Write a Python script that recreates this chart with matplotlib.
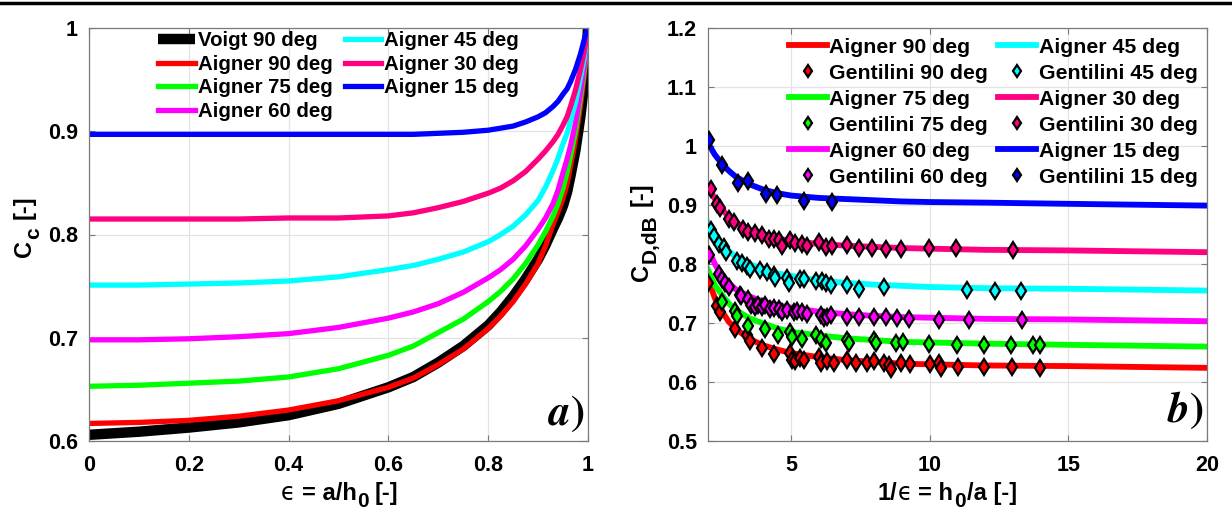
import matplotlib
matplotlib.use('Agg')
import matplotlib.pyplot as plt
from matplotlib.lines import Line2D
from matplotlib.ticker import FuncFormatter
from matplotlib.transforms import IdentityTransform

plt.rcParams['font.family'] = ['Liberation Sans', 'DejaVu Sans']
plt.rcParams['font.weight'] = 'bold'

# ---- panel a: contraction coefficient vs epsilon ----
eps = [0, 0.1, 0.2, 0.3, 0.4, 0.5, 0.6, 0.65, 0.7, 0.75, 0.8, 0.825, 0.85, 0.875, 0.9, 0.915, 0.93, 0.94,
       0.95, 0.958, 0.965, 0.975, 0.985, 0.992, 0.997, 1.0]
cc_voigt90 = [0.606, 0.609, 0.613, 0.618, 0.625, 0.636, 0.652, 0.662, 0.676, 0.692, 0.712, 0.725, 0.740, 0.757, 0.776, 0.790,
              0.806, 0.816, 0.828, 0.841, 0.857, 0.882, 0.915, 0.945, 0.973, 1.0]
cc_aig90 = [0.617, 0.618, 0.620, 0.624, 0.630, 0.639, 0.652, 0.661, 0.674, 0.689, 0.709, 0.721, 0.735, 0.752, 0.772, 0.789,
            0.810, 0.822, 0.835, 0.849, 0.866, 0.892, 0.925, 0.952, 0.978, 1.0]
cc_aig75 = [0.653, 0.654, 0.656, 0.658, 0.662, 0.670, 0.683, 0.692, 0.705, 0.718, 0.735, 0.745, 0.757, 0.772, 0.790, 0.803,
            0.818, 0.830, 0.845, 0.860, 0.876, 0.900, 0.932, 0.957, 0.980, 1.0]
cc_aig60 = [0.698, 0.698, 0.699, 0.701, 0.704, 0.710, 0.719, 0.725, 0.733, 0.744, 0.758, 0.766, 0.776, 0.789, 0.805, 0.816,
            0.830, 0.843, 0.860, 0.873, 0.886, 0.908, 0.938, 0.962, 0.983, 1.0]
cc_aig45 = [0.751, 0.751, 0.752, 0.753, 0.755, 0.759, 0.766, 0.770, 0.776, 0.783, 0.793, 0.800, 0.808, 0.819, 0.833, 0.846,
            0.862, 0.874, 0.888, 0.898, 0.910, 0.928, 0.952, 0.970, 0.987, 1.0]
cc_aig30 = [0.815, 0.815, 0.815, 0.815, 0.816, 0.816, 0.818, 0.821, 0.826, 0.832, 0.840, 0.845, 0.852, 0.861, 0.873, 0.881,
            0.890, 0.897, 0.906, 0.914, 0.924, 0.940, 0.960, 0.976, 0.990, 1.0]
cc_aig15 = [0.897, 0.897, 0.897, 0.897, 0.897, 0.897, 0.897, 0.897, 0.898, 0.899, 0.901, 0.903, 0.905, 0.909, 0.914, 0.918,
            0.924, 0.929, 0.936, 0.941, 0.948, 0.960, 0.975, 0.988, 0.996, 1.0]

# ---- panel b: discharge coefficient vs 1/epsilon ----
inv_eps = [2, 2.25, 2.5, 2.75, 3, 3.5, 4, 4.5, 5, 6, 7, 8, 9, 10, 12, 15, 20]
cd_aig90 = [0.774, 0.742, 0.720, 0.702, 0.690, 0.673, 0.662, 0.655, 0.649, 0.642, 0.637, 0.634, 0.631, 0.630, 0.628, 0.627, 0.624]
cd_aig75 = [0.790, 0.764, 0.748, 0.733, 0.722, 0.708, 0.699, 0.691, 0.685, 0.679, 0.674, 0.671, 0.668, 0.667, 0.665, 0.663, 0.660]
cd_aig60 = [0.825, 0.800, 0.780, 0.768, 0.757, 0.745, 0.736, 0.730, 0.726, 0.719, 0.715, 0.712, 0.710, 0.709, 0.707, 0.706, 0.703]
cd_aig45 = [0.870, 0.850, 0.835, 0.822, 0.812, 0.800, 0.791, 0.784, 0.780, 0.772, 0.768, 0.765, 0.763, 0.761, 0.759, 0.758, 0.755]
cd_aig30 = [0.932, 0.910, 0.893, 0.880, 0.870, 0.858, 0.850, 0.843, 0.839, 0.834, 0.831, 0.829, 0.827, 0.826, 0.824, 0.823, 0.820]
cd_aig15 = [1.005, 0.985, 0.970, 0.958, 0.948, 0.935, 0.926, 0.920, 0.916, 0.912, 0.910, 0.908, 0.906, 0.905, 0.904, 0.902, 0.899]

# Gentilini measurements
g90_x = [2.0, 2.32, 2.45, 2.98, 3.40, 3.52, 3.94, 4.37, 4.97, 5.03, 5.15, 5.33, 5.45, 5.99, 6.06, 6.30, 6.54,
         7.02, 7.33, 7.75, 7.99, 8.35, 8.53, 8.59, 8.96, 9.29, 10.02, 10.35, 10.41, 11.01, 11.97, 12.97, 13.97]
g90_y = [0.768, 0.729, 0.718, 0.689, 0.679, 0.669, 0.658, 0.648, 0.649, 0.638, 0.635, 0.641, 0.638, 0.643, 0.632, 0.635, 0.632,
         0.638, 0.633, 0.632, 0.635, 0.632, 0.629, 0.622, 0.633, 0.631, 0.630, 0.632, 0.624, 0.626, 0.626, 0.626, 0.624]
g75_x = [2.50, 2.98, 3.04, 3.46, 4.07, 4.51, 4.97, 5.03, 5.39, 5.91, 6.06, 6.24, 7.03, 7.09, 7.99, 8.05, 8.78,
         9.02, 9.98, 10.99, 11.97, 12.94, 13.72, 13.96]
g75_y = [0.736, 0.720, 0.712, 0.695, 0.689, 0.680, 0.684, 0.677, 0.673, 0.679, 0.673, 0.666, 0.672, 0.666, 0.672, 0.666, 0.666,
         0.667, 0.665, 0.663, 0.662, 0.662, 0.662, 0.662]
g60_x = [2.05, 2.38, 2.50, 2.62, 2.77, 3.14, 3.18, 3.46, 3.55, 3.70, 3.82, 3.94, 4.07, 4.25, 4.37, 4.55, 4.67, 4.85,
         5.09, 5.21, 5.39, 5.57, 6.06, 6.18, 6.30, 6.42, 7.02, 7.45, 7.99, 8.41, 8.83, 9.26, 10.32, 11.41, 13.33]
g60_y = [0.815, 0.783, 0.775, 0.767, 0.761, 0.748, 0.746, 0.741, 0.730, 0.727, 0.731, 0.727, 0.730, 0.723, 0.726, 0.723, 0.718, 0.722,
         0.718, 0.720, 0.718, 0.716, 0.714, 0.709, 0.710, 0.713, 0.711, 0.711, 0.710, 0.710, 0.709, 0.707, 0.705, 0.705, 0.705]
g45_x = [2.10, 2.22, 2.41, 2.56, 2.65, 3.04, 3.22, 3.40, 3.50, 3.88, 4.13, 4.37, 4.43, 4.85, 4.91, 5.33, 5.45, 5.88,
         6.12, 6.24, 6.42, 7.02, 7.45, 8.35, 11.35, 12.34, 13.28]
g45_y = [0.858, 0.848, 0.834, 0.828, 0.821, 0.805, 0.802, 0.796, 0.791, 0.790, 0.787, 0.781, 0.777, 0.777, 0.768, 0.774, 0.775, 0.771,
         0.771, 0.768, 0.764, 0.764, 0.758, 0.761, 0.756, 0.754, 0.755]
g30_x = [2.10, 2.34, 2.45, 2.77, 2.95, 3.28, 3.46, 3.70, 3.94, 4.19, 4.37, 4.55, 4.67, 4.97, 5.15, 5.39, 5.57, 5.99,
         6.24, 6.48, 7.02, 7.45, 7.93, 8.41, 8.96, 9.96, 10.95, 13.0]
g30_y = [0.927, 0.902, 0.895, 0.876, 0.872, 0.860, 0.855, 0.852, 0.849, 0.843, 0.842, 0.840, 0.831, 0.841, 0.835, 0.834, 0.831, 0.837,
         0.828, 0.831, 0.832, 0.827, 0.827, 0.825, 0.826, 0.827, 0.827, 0.824]
g15_x = [2.03, 2.5, 3.10, 3.46, 4.10, 4.49, 5.48, 6.48]
g15_y = [1.010, 0.968, 0.938, 0.940, 0.919, 0.917, 0.906, 0.905]

col = {90: '#ff0000', 75: '#00ff00', 60: '#ff00ff', 45: '#00ffff', 30: '#ff0080', 15: '#0000ff'}

W, H = 1232, 520
fig = plt.figure(figsize=(W / 100, H / 100), dpi=100)
ax1 = fig.add_axes([89 / W, 1 - 441 / H, 499 / W, 413 / H])
ax2 = fig.add_axes([708 / W, 1 - 441 / H, 499 / W, 413 / H])

# top rule of the page
fig.add_artist(Line2D([0, 1], [1 - 2.5 / H, 1 - 2.5 / H], color='black', lw=2.5, transform=fig.transFigure))

fmt = FuncFormatter(lambda v, p: '%g' % round(v, 3))


def style(ax):
    ax.grid(True, color='#e3e3e3', lw=0.9)
    ax.set_axisbelow(True)
    for s in ax.spines.values():
        s.set_color('#7a7a7a')
        s.set_linewidth(0.9)
    ax.tick_params(direction='in', length=4, color='#7a7a7a', labelsize=15.5, top=True, right=True,
                   labelcolor='black')
    ax.tick_params(axis='x', pad=10)
    ax.tick_params(axis='y', pad=8)
    ax.xaxis.set_major_formatter(fmt)
    ax.yaxis.set_major_formatter(fmt)


# labels built from pieces so that subscripts keep MATLAB-like size
PX = IdentityTransform()
REG = dict(fontsize=17, fontweight='bold')
SUB = dict(fontsize=15, fontweight='bold')
EPS = dict(fontsize=17, fontweight='normal', family=['DejaVu Sans'])


def piece_label(anchor, pieces, vertical=False):
    r = fig.canvas.get_renderer()
    items = []
    for s, gap, shift, kw in pieces:
        t = fig.text(0, 0, s, transform=PX, ha='left', va='baseline', rotation=90 if vertical else 0,
                     rotation_mode='anchor', **kw)
        bb = t.get_window_extent(r)
        items.append((t, gap, shift, bb.height if vertical else bb.width))
    total = sum(g + l for _, g, _, l in items)
    ax_, ay_ = anchor
    pos = (ay_ if vertical else ax_) - total / 2
    for t, gap, shift, length in items:
        pos += gap
        if vertical:
            t.set_position((ax_ + shift, pos))
        else:
            t.set_position((pos, ay_ - shift))
        pos += length


# panel a
ax1.plot(eps, cc_voigt90, color='black', lw=7.5, label='Voigt 90 deg', solid_capstyle='butt')
ax1.plot(eps, cc_aig90, color=col[90], lw=3.8, label='Aigner 90 deg')
ax1.plot(eps, cc_aig75, color=col[75], lw=3.8, label='Aigner 75 deg')
ax1.plot(eps, cc_aig60, color=col[60], lw=3.8, label='Aigner 60 deg')
ax1.plot(eps, cc_aig45, color=col[45], lw=3.8, label='Aigner 45 deg')
ax1.plot(eps, cc_aig30, color=col[30], lw=3.8, label='Aigner 30 deg')
ax1.plot(eps, cc_aig15, color=col[15], lw=3.8, label='Aigner 15 deg')
ax1.set_xlim(0, 1)
ax1.set_ylim(0.6, 1)
ax1.set_xticks([0, 0.2, 0.4, 0.6, 0.8, 1])
ax1.set_yticks([0.6, 0.7, 0.8, 0.9, 1])
style(ax1)
ax1.legend(loc='upper center', ncol=2, frameon=False, fontsize=14.7, handlelength=1.8,
           handletextpad=0.12, columnspacing=0.6, labelspacing=0.22, borderaxespad=0.0,
           bbox_to_anchor=(0.5, 1.012))
ax1.text(0.993, 0.065, r'$\mathbfit{a}\mathrm{)}$', transform=ax1.transAxes, ha='right', va='center',
         fontsize=31, math_fontfamily='stix')

# panel b
series = [(90, cd_aig90, g90_x, g90_y), (75, cd_aig75, g75_x, g75_y), (60, cd_aig60, g60_x, g60_y),
          (45, cd_aig45, g45_x, g45_y), (30, cd_aig30, g30_x, g30_y), (15, cd_aig15, g15_x, g15_y)]
handles = []
for ang, cd, gx, gy in series:
    ln, = ax2.plot(inv_eps, cd, color=col[ang], lw=4.2, label='Aigner %d deg' % ang, zorder=2)
    handles.append(ln)
    mk, = ax2.plot(gx, gy, ls='none', marker='d', ms=8.5, mfc=col[ang], mec='black', mew=1.6,
                   label='Gentilini %d deg' % ang, zorder=3)
    handles.append(mk)
ax2.set_xlim(2, 20)
ax2.set_ylim(0.5, 1.2)
ax2.set_xticks([5, 10, 15, 20])
ax2.set_yticks([0.5, 0.6, 0.7, 0.8, 0.9, 1.0, 1.1, 1.2])
style(ax2)
ax2.legend(handles=handles, loc='upper right', ncol=2, frameon=False, fontsize=15.3,
           handlelength=1.8, handletextpad=0.12, columnspacing=0.45, labelspacing=0.33,
           borderaxespad=0.05, markerscale=0.7)
ax2.text(0.993, 0.075, r'$\mathbfit{b}\mathrm{)}$', transform=ax2.transAxes, ha='right', va='center',
         fontsize=31, math_fontfamily='stix')

# axis labels (display pixels, origin bottom-left)
piece_label((340, H - 500), [('\u03f5', 0, 0, EPS), ('= a/h', 6, 0, REG), ('0', 1, 7, SUB), ('[-]', 6, 0, REG)])
piece_label((947, H - 500), [('1/', 0, 0, REG), ('\u03f5', 1, 0, EPS), ('= h', 6, 0, REG), ('0', 1, 7, SUB),
                             ('/a [-]', 1, 0, REG)])
piece_label((31, H - 226), [('C', 0, 0, REG), ('c', 1, 8, SUB), ('[-]', 8, 0, REG)], vertical=True)
piece_label((648, H - 232), [('C', 0, 0, REG), ('D,dB', 1, 8, SUB), ('[-]', 8, 0, REG)], vertical=True)

fig.savefig('out.png', dpi=100)
